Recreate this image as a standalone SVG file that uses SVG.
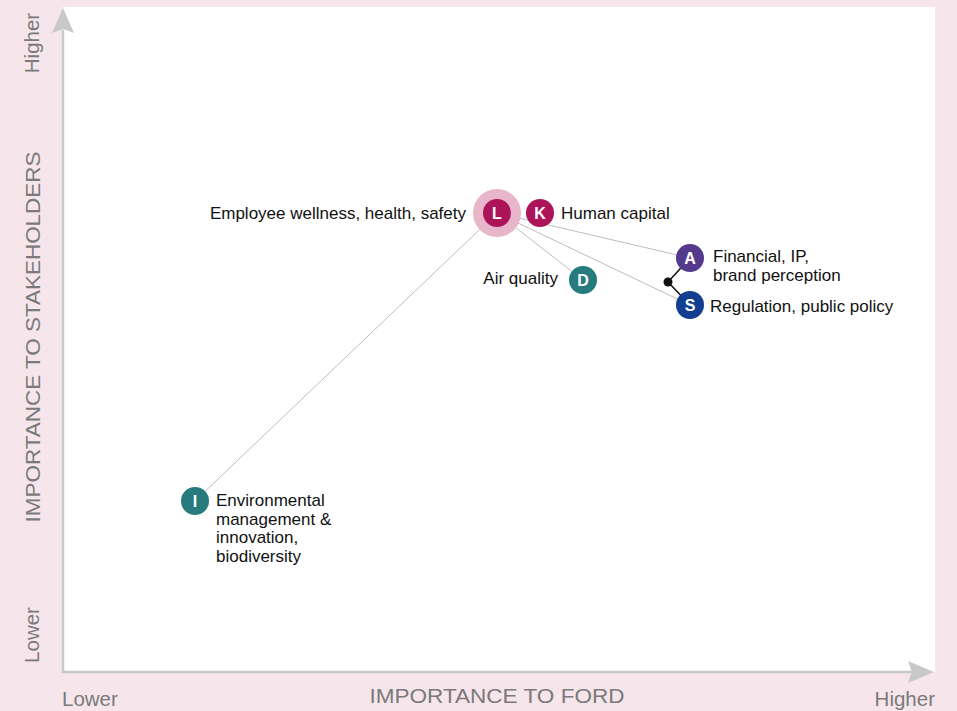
<svg xmlns="http://www.w3.org/2000/svg" width="957" height="711" viewBox="0 0 957 711">
<style>
.lbl{font-family:"Liberation Sans",Arial,sans-serif;font-size:17px;fill:#111}
.ltr{font-family:"Liberation Sans",Arial,sans-serif;font-size:16px;font-weight:bold;fill:#fff;text-anchor:middle}
.ax{font-family:"Liberation Sans",Arial,sans-serif;fill:#7a7a7a}
.conn{stroke:#bdbdbd;stroke-width:1;fill:none}
</style>
<rect x="0" y="0" width="957" height="711" fill="#f6e6ec"/>
<rect x="63" y="7" width="872" height="665" fill="#ffffff"/>
<g id="axes">
<line x1="63" y1="673" x2="63" y2="30" stroke="#c8c8c8" stroke-width="2.5"/>
<polygon points="63,8 74,33 63,29 52,33" fill="#c8c8c8"/>
<line x1="62" y1="672" x2="912" y2="672" stroke="#c8c8c8" stroke-width="2.5"/>
<polygon points="934,672 908,683 912,672 908,661" fill="#c8c8c8"/>
<text class="ax" font-size="20.5" transform="translate(39,43) rotate(-90)" text-anchor="middle">Higher</text>
<text class="ax" font-size="20.5" transform="translate(39,635) rotate(-90)" text-anchor="middle">Lower</text>
<text class="ax" font-size="21" transform="translate(40,337) rotate(-90)" text-anchor="middle" textLength="371" lengthAdjust="spacingAndGlyphs">IMPORTANCE TO STAKEHOLDERS</text>
<text class="ax" font-size="20.5" x="62" y="706">Lower</text>
<text class="ax" font-size="21" x="497" y="703" text-anchor="middle" textLength="255" lengthAdjust="spacingAndGlyphs">IMPORTANCE TO FORD</text>
<text class="ax" font-size="20.5" x="935" y="706" text-anchor="end">Higher</text>
</g>
<g id="connectors">
<line class="conn" x1="497" y1="213" x2="195" y2="501"/>
<line class="conn" x1="497" y1="213" x2="583" y2="280"/>
<line class="conn" x1="497" y1="213" x2="690" y2="258"/>
<line class="conn" x1="497" y1="213" x2="690" y2="305"/>
<polyline points="690,258 668,282 690,305" fill="none" stroke="#111" stroke-width="1.5"/>
<circle cx="668" cy="282" r="4.5" fill="#111"/>
</g>
<g id="node-L">
<circle cx="497" cy="213" r="24" fill="#e8b6ca"/>
<circle cx="497" cy="213" r="14" fill="#ac1358"/>
<text class="ltr" x="497" y="219">L</text>
<text class="lbl" x="466" y="219" text-anchor="end">Employee wellness, health, safety</text>
</g>
<g id="node-K">
<circle cx="540" cy="213" r="14" fill="#ac1358"/>
<text class="ltr" x="540" y="219">K</text>
<text class="lbl" x="561" y="219">Human capital</text>
</g>
<g id="node-D">
<circle cx="583" cy="280" r="14" fill="#277a7e"/>
<text class="ltr" x="583" y="286">D</text>
<text class="lbl" x="558" y="284" text-anchor="end">Air quality</text>
</g>
<g id="node-A">
<circle cx="690" cy="258" r="14" fill="#543a8c"/>
<text class="ltr" x="690" y="264">A</text>
<text class="lbl" x="713" y="262">Financial, IP,</text>
<text class="lbl" x="713" y="281">brand perception</text>
</g>
<g id="node-S">
<circle cx="690" cy="305" r="14" fill="#123f8f"/>
<text class="ltr" x="690" y="311">S</text>
<text class="lbl" x="710" y="312">Regulation, public policy</text>
</g>
<g id="node-I">
<circle cx="195" cy="501" r="14" fill="#277a7e"/>
<text class="ltr" x="195" y="507">I</text>
<text class="lbl" x="216" y="506">Environmental</text>
<text class="lbl" x="216" y="525">management &amp;</text>
<text class="lbl" x="216" y="543">innovation,</text>
<text class="lbl" x="216" y="562">biodiversity</text>
</g>
</svg>
